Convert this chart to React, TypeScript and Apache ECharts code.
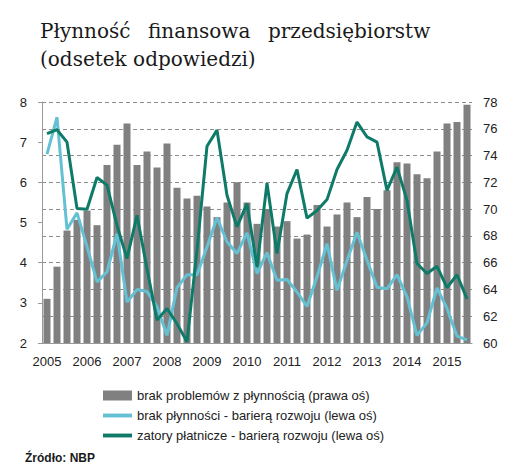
import { useEffect, useRef } from 'react'
import * as echarts from 'echarts'

// kwartały 2005 I - 2015 III
const quarters = [
  '2005Q1', '2005Q2', '2005Q3', '2005Q4',
  '2006Q1', '2006Q2', '2006Q3', '2006Q4',
  '2007Q1', '2007Q2', '2007Q3', '2007Q4',
  '2008Q1', '2008Q2', '2008Q3', '2008Q4',
  '2009Q1', '2009Q2', '2009Q3', '2009Q4',
  '2010Q1', '2010Q2', '2010Q3', '2010Q4',
  '2011Q1', '2011Q2', '2011Q3', '2011Q4',
  '2012Q1', '2012Q2', '2012Q3', '2012Q4',
  '2013Q1', '2013Q2', '2013Q3', '2013Q4',
  '2014Q1', '2014Q2', '2014Q3', '2014Q4',
  '2015Q1', '2015Q2', '2015Q3'
]

// brak problemów z płynnością (prawa oś)
const noProblems = [
  63.3, 65.7, 68.4, 69.2, 69.9, 68.8, 73.3, 74.8, 76.4, 73.3, 74.3,
  73.1, 74.9, 71.6, 70.8, 71.0, 70.2, 69.4, 70.5, 72.0, 70.5, 68.9,
  70.0, 68.7, 69.1, 67.8, 68.1, 70.3, 68.7, 69.6, 70.5, 69.4, 70.9,
  70.0, 71.4, 73.5, 73.4, 72.6, 72.3, 74.3, 76.4, 76.5, 77.8
]

// brak płynności - barierą rozwoju (lewa oś)
const noLiquidity = [
  6.70, 7.62, 4.83, 5.24, 4.40, 3.52, 3.77, 4.72, 3.02, 3.33, 3.28,
  2.90, 2.19, 3.38, 3.70, 3.70, 4.39, 5.12, 4.52, 4.23, 4.74, 3.73,
  4.25, 3.56, 3.58, 3.27, 2.91, 3.65, 4.47, 3.31, 4.05, 4.76, 4.06,
  3.39, 3.35, 3.70, 3.15, 2.19, 2.50, 3.37, 2.86, 2.17, 2.08
]

// zatory płatnicze - barierą rozwoju (lewa oś)
const paymentJams = [
  7.21, 7.31, 7.00, 5.35, 5.33, 6.12, 5.93, 4.93, 4.10, 5.18, 3.85,
  2.57, 2.86, 2.48, 2.03, 4.31, 6.90, 7.30, 5.68, 4.89, 5.47, 3.89,
  5.98, 4.23, 5.72, 6.32, 5.11, 5.30, 5.57, 6.32, 6.80, 7.50, 7.13,
  7.00, 5.80, 6.38, 5.55, 3.98, 3.73, 3.91, 3.38, 3.70, 3.10
]

const seriesNames = [
  'brak problemów z płynnością (prawa oś)',
  'brak płynności - barierą rozwoju (lewa oś)',
  'zatory płatnicze - barierą rozwoju (lewa oś)'
]

const titleWords = ['Płynność', 'finansowa', 'przedsiębiorstw']
const subtitle = '(odsetek odpowiedzi)'
const source = 'Źródło: NBP'

const sans = '"Liberation Sans", Arial, sans-serif'
const serif = '"DejaVu Serif", serif'

// cienki prostokąt jako ikona linii w legendzie
const lineIcon = 'path://M0 0h30v4H0z'

export default function App() {
  const chartRef = useRef<HTMLDivElement>(null)

  useEffect(() => {
    document.body.style.margin = '0'
    if (!chartRef.current) return
    const chart = echarts.init(chartRef.current, null, { renderer: 'svg' })

    const titleX = [40, 148, 268]

    const option: echarts.EChartsOption = {
      animation: false,
      textStyle: { fontFamily: sans },
      grid: { left: 42, right: 47, top: 102, bottom: 129 },
      graphic: [
        ...titleWords.map((w, i) => ({
          type: 'text' as const,
          x: titleX[i],
          y: 31,
          style: { text: w, font: `20px ${serif}`, fill: '#1a1a1a', verticalAlign: 'middle' as const }
        })),
        {
          type: 'text',
          x: 40,
          y: 59,
          style: { text: subtitle, font: `20px ${serif}`, fill: '#1a1a1a', verticalAlign: 'middle' }
        },
        {
          type: 'text',
          x: 25,
          y: 458,
          style: { text: source, font: `bold 12px ${sans}`, fill: '#1a1a1a', verticalAlign: 'middle' }
        }
      ],
      legend: {
        orient: 'vertical',
        left: 98,
        top: 384,
        itemGap: 7,
        itemWidth: 29,
        itemHeight: 10,
        textStyle: { fontSize: 13, color: '#222', fontFamily: sans },
        data: [
          { name: seriesNames[0], icon: 'rect' },
          { name: seriesNames[1], icon: lineIcon },
          { name: seriesNames[2], icon: lineIcon }
        ]
      },
      xAxis: {
        type: 'category',
        data: quarters,
        boundaryGap: true,
        axisLine: { lineStyle: { color: '#999' } },
        axisTick: { interval: 3, length: 4, lineStyle: { color: '#999' } },
        axisLabel: {
          interval: 3,
          margin: 12,
          fontSize: 13,
          color: '#222',
          formatter: (v: string) => v.slice(0, 4)
        }
      },
      yAxis: [
        {
          type: 'value',
          position: 'left',
          min: 2,
          max: 8,
          interval: 1,
          axisLine: { show: true, lineStyle: { color: '#999' } },
          axisTick: { show: true, length: 4, lineStyle: { color: '#999' } },
          splitLine: { show: false },
          axisLabel: { margin: 15, fontSize: 13, color: '#222' }
        },
        {
          type: 'value',
          position: 'right',
          min: 60,
          max: 78,
          interval: 2,
          axisLine: { show: false },
          axisTick: { show: false },
          splitLine: { show: true, lineStyle: { color: '#8c8c8c', type: [4, 3], width: 1 } },
          axisLabel: { margin: 11, fontSize: 13, color: '#222' }
        }
      ],
      series: [
        {
          name: seriesNames[0],
          type: 'bar',
          yAxisIndex: 1,
          data: noProblems,
          barWidth: 7,
          itemStyle: { color: '#808080' }
        },
        {
          name: seriesNames[1],
          type: 'line',
          yAxisIndex: 0,
          data: noLiquidity,
          symbol: 'none',
          lineStyle: { width: 3, color: '#64c1d3' },
          itemStyle: { color: '#64c1d3' }
        },
        {
          name: seriesNames[2],
          type: 'line',
          yAxisIndex: 0,
          data: paymentJams,
          symbol: 'none',
          lineStyle: { width: 3, color: '#0e7a68' },
          itemStyle: { color: '#0e7a68' }
        }
      ]
    }

    chart.setOption(option)

    return () => {
      chart.dispose()
    }
  }, [])

  return <div ref={chartRef} style={{ width: '519px', height: '472px' }} />
}
